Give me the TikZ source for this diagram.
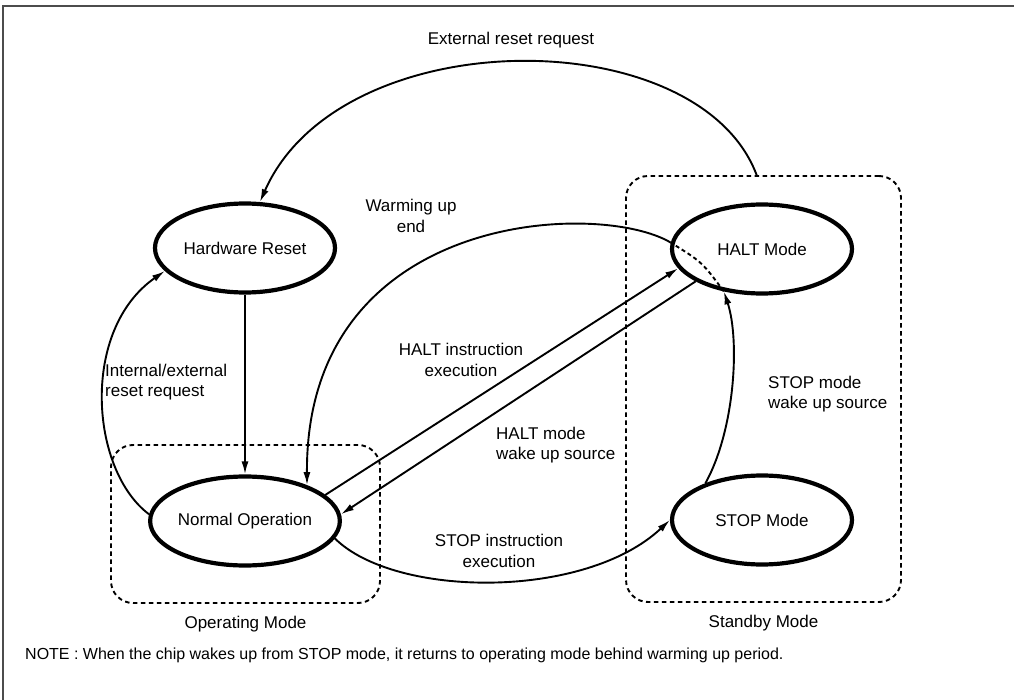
\documentclass[tikz,border=0pt]{standalone}
\usepackage{fontspec}
\setmainfont{Liberation Sans}
\usetikzlibrary{arrows.meta,positioning,shapes.geometric}

\begin{document}
\begin{tikzpicture}[
  x=1pt,y=-1pt,
  >={Latex[length=13pt,width=7pt]},
  node distance=12pt,
  msstate/.style={draw,ellipse,line width=4.2pt,minimum width=180pt,minimum height=89pt,
               inner sep=0pt,font=\fontsize{17}{20.5}\selectfont},
  msgroup/.style={draw,dash pattern=on 4.5pt off 3.5pt,line width=1.9pt,
               rounded corners=22pt,inner sep=0pt},
  mslabel/.style={inner sep=0pt,font=\fontsize{17}{20.5}\selectfont},
  mslink/.style={->,line width=1.9pt},
]
\useasboundingbox (0,0) rectangle (1014,700);
\draw[line width=1.6pt,black!70] (3,700) -- (3,6) -- (1014,6);

\node[msgroup,minimum width=269pt,minimum height=158pt] (opgrp) at (245.5,524) {};
\node[msgroup,minimum width=275pt,minimum height=426pt] (sbgrp) at (763.5,389) {};
\node[mslabel,below=of opgrp] (oplbl) {Operating Mode};
\node[mslabel,below=of sbgrp] (sblbl) {Standby Mode};

\node[msstate] (hwrst)  at (245,248) {Hardware Reset};
\node[msstate] (normop) at (245,521) {Normal Operation};
\node[msstate] (haltm)  at (762,249) {HALT Mode};
\node[msstate] (stopm)  at (762,520) {STOP Mode};

\coordinate (extsrc) at (757,176);

\draw[mslink] (extsrc) .. controls (700,20) and (340,20) .. (hwrst.72);
\draw[mslink] (hwrst) -- (normop);
\draw[mslink] (normop.176) .. controls (90,470) and (80,330) .. (hwrst.196);
\draw[mslink] (normop.18) -- (haltm.193);
\draw[mslink] (haltm.206) -- (normop.4);
\draw[mslink] (normop.-11) .. controls (395,598) and (585,600) .. (stopm.west);
\draw[mslink] (stopm.147) .. controls (735,430) and (740,340) .. (haltm.228);
\draw[line width=1.9pt,dash pattern=on 4pt off 3pt] (haltm.228) .. controls (702,262) .. (haltm.176);
\draw[mslink] (haltm.176) .. controls (600,200) and (305,210) .. (normop.30);

\node[mslabel] (extlbl) at (511,40) {External reset request};
\node[mslabel,align=center] (warmlbl) at (411,216) {Warming up\\end};
\node[mslabel,align=left,anchor=west] (intlbl) at (105,382) {Internal/external\\reset request};
\node[mslabel,align=center] (hinlbl) at (461,360) {HALT instruction\\execution};
\node[mslabel,align=left,anchor=west] (hwklbl) at (496,445) {HALT mode\\wake up source};
\node[mslabel,align=center] (sinlbl) at (499,551) {STOP instruction\\execution};
\node[mslabel,align=left,anchor=west] (swklbl) at (768,394) {STOP mode\\wake up source};
\node[inner sep=0pt,anchor=west,font=\fontsize{16}{19}\selectfont] (notelbl) at (25,655)
   {NOTE : When the chip wakes up from STOP mode, it returns to operating mode behind warming up period.};
\end{tikzpicture}
\end{document}
